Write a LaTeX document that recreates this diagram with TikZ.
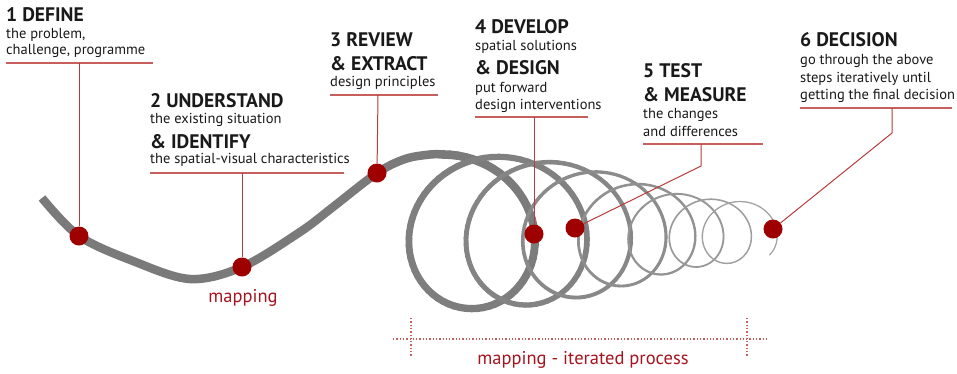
\documentclass[tikz,border=0pt]{standalone}
\usepackage{fontspec}
\setmainfont{PT Sans}
\definecolor{dotred}{RGB}{158,0,0}
\definecolor{linered}{RGB}{185,60,60}
\definecolor{ulred}{RGB}{200,95,95}
\definecolor{txtred}{RGB}{165,20,30}
\definecolor{txt}{RGB}{25,25,25}
\begin{document}
\begin{tikzpicture}[x=1pt,y=-1pt,
  hd/.style={anchor=base west, inner sep=0, font=\fontsize{19.6}{19.6}\selectfont\bfseries, text=txt},
  sm/.style={anchor=base west, inner sep=0, font=\fontsize{14.5}{14.5}\selectfont, text=txt},
  lbl/.style={anchor=base, inner sep=0, font=\fontsize{18.5}{18.5}\selectfont, text=txtred},
  dotn/.style={circle, fill=dotred, minimum size=19, inner sep=0},
  conn/.style={draw=linered, line width=1},
  uline/.style={draw=ulred, line width=1.5},
  dotl/.style={draw=ulred, line width=1.3, dash pattern=on 1.3pt off 2pt},
  coil/.style={line cap=round}]
\useasboundingbox (0,0) rectangle (957,373);

% S-curve
\draw[line width=8.5, color=black!52] plot[smooth, tension=0.55] coordinates {(42,198) (79,236) (133,261) (190,279) (242,267) (300,232) (333,207) (377,173) (405,159) (430,154.5) (443,154.5)};

% coil (prolate trochoid)
\foreach \i in {0,...,531} {
  \pgfmathsetmacro\sa{\i/72}
  \pgfmathsetmacro\sb{(\i+1)/72}
  \pgfmathsetmacro\ra{29+50/(1+exp(\sa-3.5))}
  \pgfmathsetmacro\rb{29+50/(1+exp(\sb-3.5))}
  \pgfmathsetmacro\xa{442.85+58.44*\sa-2.278*\sa*\sa+\ra*sin(360*\sa)}
  \pgfmathsetmacro\ya{232-\ra*cos(360*\sa)}
  \pgfmathsetmacro\xb{442.85+58.44*\sb-2.278*\sb*\sb+\rb*sin(360*\sb)}
  \pgfmathsetmacro\yb{232-\rb*cos(360*\sb)}
  \pgfmathsetmacro\w{0.6+8*exp(-0.36*\sa)}
  \pgfmathsetmacro\pc{52-2.2*\sa}
  \draw[coil, line width=\w, color=black!\pc] (\xa,\ya) -- (\xb,\yb);
}

% text blocks
\node[hd] (t1a) at (6,21) {1 DEFINE};
\node[sm] (t1b) at (6,38) {the problem,};
\node[sm] (t1c) at (6,54) {challenge, programme};

\node[hd] (t2a) at (150,107) {2 UNDERSTAND};
\node[sm] (t2b) at (150,123) {the existing situation};
\node[hd] (t2c) at (150,148) {\& IDENTIFY};
\node[sm] (t2d) at (150,163) {the spatial-visual characteristics};

\node[hd] (t3a) at (330,46) {3 REVIEW};
\node[hd] (t3b) at (330,70) {\& EXTRACT};
\node[sm] (t3c) at (330,86) {design principles};

\node[hd] (t4a) at (475,33) {4 DEVELOP};
\node[sm] (t4b) at (475,50) {spatial solutions};
\node[hd] (t4c) at (475,74) {\& DESIGN};
\node[sm] (t4d) at (475,92) {put forward};
\node[sm] (t4e) at (475,109) {design interventions};

\node[hd] (t5a) at (643,77) {5 TEST};
\node[hd] (t5b) at (643,101) {\& MEASURE};
\node[sm] (t5c) at (643,118) {the changes};
\node[sm] (t5d) at (643,136) {and differences};

\node[hd] (t6a) at (800,46) {6 DECISION};
\node[sm] (t6b) at (800,64) {go through the above};
\node[sm] (t6c) at (800,82) {steps iteratively until};
\node[sm] (t6d) at (800,99) {getting the final decision};

% underlines
\coordinate (u1l) at (6,63);   \coordinate (u1r) at (153,63);  \coordinate (u1) at (79,63);
\coordinate (u2l) at (150,173); \coordinate (u2r) at (344,173); \coordinate (u2) at (242,173);
\coordinate (u3l) at (330,95);  \coordinate (u3r) at (438,95);  \coordinate (u3) at (378,95);
\coordinate (u4l) at (475,117); \coordinate (u4r) at (588,117); \coordinate (u4) at (534,117);
\coordinate (u5l) at (643,144); \coordinate (u5r) at (763,144); \coordinate (u5) at (701,144);
\coordinate (u6l) at (800,108); \coordinate (u6r) at (952,108); \coordinate (u6) at (892,108);
\coordinate (k5) at (701,166);
\coordinate (k6) at (892,133);
\foreach \n in {1,...,6} {\draw[uline] (u\n l) -- (u\n r);}

% dots
\node[dotn] (d1) at (79,236) {};
\node[dotn] (d2) at (242,267) {};
\node[dotn] (d3) at (377,173) {};
\node[dotn] (d4) at (534,234) {};
\node[dotn] (d5) at (575,228) {};
\node[dotn] (d6) at (773,229) {};

% connectors
\draw[conn] (u1) -- (d1);
\draw[conn] (u2) -- (d2);
\draw[conn] (u3) -- (d3);
\draw[conn] (u4) -- (d4);
\draw[conn] (u5) -- (k5) -- (d5);
\draw[conn] (u6) -- (k6) -- (d6);

% labels
\node[lbl] (m1) at (243,302) {mapping};
\coordinate (h1) at (393,339); \coordinate (h2) at (767,339);
\coordinate (v1a) at (411,318); \coordinate (v1b) at (411,357);
\coordinate (v2a) at (747,318); \coordinate (v2b) at (747,357);
\draw[dotl] (h1) -- (h2);
\draw[dotl] (v1a) -- (v1b);
\draw[dotl] (v2a) -- (v2b);
\node[lbl] (m2) at (583,364) {mapping - iterated process};
\end{tikzpicture}
\end{document}
